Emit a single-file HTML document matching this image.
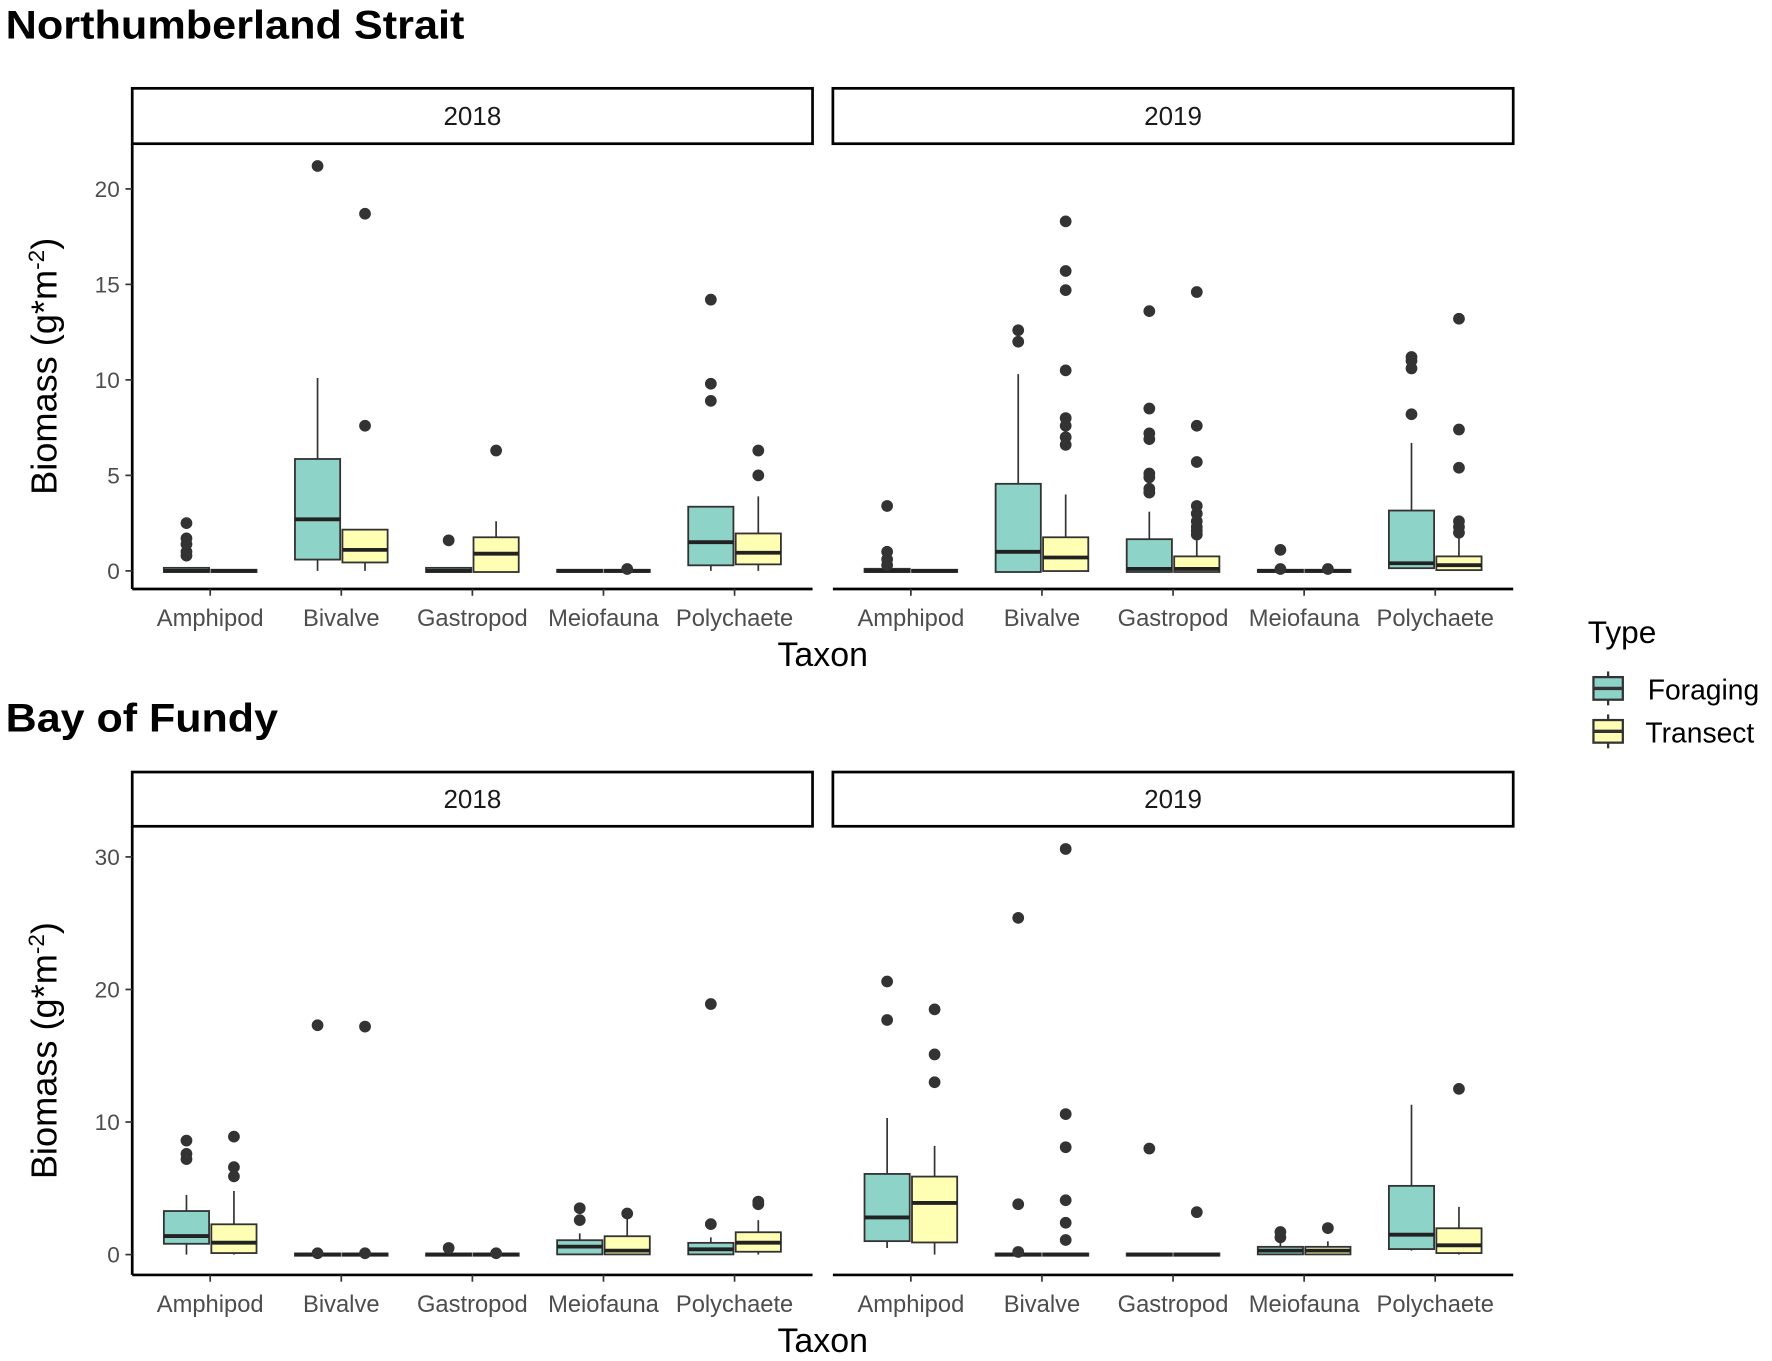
<!DOCTYPE html>
<html><head><meta charset="utf-8"><style>
html,body{margin:0;padding:0;background:#fff;}
svg{display:block;font-family:"Liberation Sans",Arial,sans-serif;}
</style></head><body>
<svg id="chart" width="1772" height="1361" viewBox="0 0 1568 1204">
<text x="5" y="34" font-size="35" font-weight="bold" fill="#000" textLength="406" lengthAdjust="spacingAndGlyphs">Northumberland Strait</text>
<text x="5" y="647" font-size="35" font-weight="bold" fill="#000" textLength="241" lengthAdjust="spacingAndGlyphs">Bay of Fundy</text>
<g>
<text x="1405" y="569" font-size="28" fill="#000">Type</text>
<g>
<line x1="1423" y1="594" x2="1423" y2="624" stroke="#333" stroke-width="2"/>
<rect x="1410" y="599" width="26" height="20" fill="#8dd3c7" stroke="#333" stroke-width="2"/>
<line x1="1410" y1="609" x2="1436" y2="609" stroke="#333" stroke-width="3"/>
<text x="1458" y="619" font-size="25" fill="#000">Foraging</text></g>
<g>
<line x1="1423" y1="632" x2="1423" y2="662" stroke="#333" stroke-width="2"/>
<rect x="1410" y="637" width="26" height="20" fill="#ffffb3" stroke="#333" stroke-width="2"/>
<line x1="1410" y1="647" x2="1436" y2="647" stroke="#333" stroke-width="3"/>
<text x="1456" y="657" font-size="25" fill="#000">Transect</text></g>
</g>
</svg>
<script>
const categories = ["Amphipod","Bivalve","Gastropod","Meiofauna","Polychaete"];
const years = ["2018","2019"];
const nsTicks = [0,5,10,15,20];
const bfTicks = [0,10,20,30];
// each box: [lowWhisker, q1, median, q3, highWhisker]
const ns2018F = [[0,0,0,0.1,0.2],[0,0.65,2.7,5.8,10.1],[0,0,0,0.1,0.2],[0,0,0,0,0],[0,0.35,1.5,3.3,3.4]];
const ns2018T = [[0,0,0,0,0],[0,0.5,1.1,2.1,2.1],[0,0,0.9,1.7,2.6],[0,0,0,0,0],[0,0.4,0.95,1.9,3.9]];
const ns2019F = [[0,0,0,0.05,0.1],[0,0,1.0,4.5,10.3],[0,0,0.1,1.6,3.1],[0,0,0,0,0],[0.1,0.2,0.4,3.1,6.7]];
const ns2019T = [[0,0,0,0,0],[0,0.05,0.7,1.7,4.0],[0,0,0.1,0.7,1.6],[0,0,0,0,0],[0,0.1,0.3,0.7,1.7]];
const ns2018FOut = [[0.8,1.0,1.4,1.7,2.5],[21.2],[1.6],[],[8.9,9.8,14.2]];
const ns2018TOut = [[],[7.6,18.7],[6.3],[0.1],[5.0,6.3]];
const ns2019FOut = [[0.3,0.6,1.0,3.4],[12.0,12.6],[4.1,4.3,4.9,5.1,6.9,7.2,8.5,13.6],[0.1,1.1],[8.2,10.6,11.0,11.2]];
const ns2019TOut = [[],[6.6,7.0,7.6,8.0,10.5,14.7,15.7,18.3],[1.9,2.1,2.3,2.6,3.0,3.4,5.7,7.6,14.6],[0.1],[2.0,2.3,2.6,5.4,7.4,13.2]];
const bf2018F = [[0,0.9,1.4,3.2,4.5],[0,0,0,0,0],[0,0,0,0,0],[0,0.1,0.6,1.0,1.6],[0,0.1,0.4,0.8,1.3]];
const bf2018T = [[0,0.2,0.9,2.2,4.8],[0,0,0,0,0],[0,0,0,0,0],[0,0.1,0.3,1.3,3.0],[0,0.3,0.9,1.6,2.6]];
const bf2019F = [[0.5,1.1,2.8,6.0,10.3],[0,0,0,0,0],[0,0,0,0,0],[0,0.1,0.3,0.5,1.0],[0.3,0.5,1.5,5.1,11.3]];
const bf2019T = [[0,1.0,3.9,5.8,8.2],[0,0,0,0,0],[0,0,0,0,0],[0,0.1,0.3,0.5,1.0],[0,0.2,0.7,1.9,3.6]];
const bf2018FOut = [[7.2,7.6,8.6],[0.1,17.3],[0.5],[2.6,3.5],[2.3,18.9]];
const bf2018TOut = [[5.9,6.6,8.9],[0.1,17.2],[0.1],[3.1],[3.8,4.0]];
const bf2019FOut = [[17.7,20.6],[0.2,3.8,25.4],[8.0],[1.3,1.7],[]];
const bf2019TOut = [[13.0,15.1,18.5],[1.1,2.4,4.1,8.1,10.6,30.6],[3.2],[2.0],[12.5]];

const NS = "http://www.w3.org/2000/svg";
const svg = document.getElementById("chart");
function mk(tag, attrs, parent){const e=document.createElementNS(NS,tag);for(const k in attrs)e.setAttribute(k,attrs[k]);(parent||svg).appendChild(e);return e;}

function drawFigure(cfg){
  const g = mk("g",{});
  
  
  const panelX = [117, 737], panelW = 602;
  const y = v => cfg.y0 - (v - 0) * cfg.scale;
  years.forEach((yr, p) => {
    const px = panelX[p];
    const strip = mk("rect",{x:px,y:cfg.stripTop,width:panelW,height:cfg.stripH,fill:"#fff",stroke:"#000","stroke-width":2.4},g);
    
    
    const st = mk("text",{x:px+panelW/2,y:cfg.stripTop+cfg.stripH/2+8,"font-size":23,"text-anchor":"middle",fill:"#1a1a1a"},g);
    st.textContent = yr;
    const xa = mk("line",{x1:px,y1:cfg.axisY,x2:px+panelW,y2:cfg.axisY,stroke:"#000","stroke-width":2.4},g);
    
    
    if (p===0){
      const ya = mk("line",{x1:px,y1:cfg.stripTop+cfg.stripH,x2:px,y2:cfg.axisY,stroke:"#000","stroke-width":2.4},g);
      
      
      cfg.ticks.forEach(t => {
        mk("line",{x1:px-6,y1:y(t),x2:px,y2:y(t),stroke:"#333","stroke-width":1.5},g);
        const tl = mk("text",{x:px-11,y:y(t)+7,"font-size":20,"text-anchor":"end",fill:"#4d4d4d"},g);
        tl.textContent = t;
        
        
      });
    }
    categories.forEach((c, i) => {
      const cx = px + 69 + i*116;
      mk("line",{x1:cx,y1:cfg.axisY,x2:cx,y2:cfg.axisY+6,stroke:"#333","stroke-width":1.5},g);
      const xl = mk("text",{x:cx,y:cfg.axisY+33,"font-size":21,"text-anchor":"middle",fill:"#4d4d4d"},g);
      xl.textContent = c;
      
      
      [[cfg.F[p][i], cfg.FO[p][i], -21, "#8dd3c7", "foraging"],[cfg.T[p][i], cfg.TO[p][i], 21, "#ffffb3", "transect"]].forEach(([b, outs, off, col, nm]) => {
        const bx = cx + off, hw = 20;
        const bg = mk("g",{},g);
        
        
        mk("line",{x1:bx,y1:y(b[0]),x2:bx,y2:y(b[4]),stroke:"#333","stroke-width":1.5},bg);
        const top = y(b[3]), h = Math.max(y(b[1]) - y(b[3]), 0);
        mk("rect",{x:bx-hw,y:top-1,width:hw*2,height:h+2,fill:col,stroke:"#333","stroke-width":1.6},bg);
        mk("line",{x1:bx-hw,y1:y(b[2]),x2:bx+hw,y2:y(b[2]),stroke:"#222","stroke-width":3.4},bg);
        outs.forEach(o => {
          const d = mk("circle",{cx:bx,cy:y(o),r:5.2,fill:"#333"},bg);
          
          
        });
      });
    });
  });
  const xt = mk("text",{x:728,y:cfg.axisY+68,"font-size":30,"text-anchor":"middle",fill:"#000"},g);
  xt.textContent = "Taxon";
  
  
  const cy = (cfg.stripTop+cfg.stripH+cfg.axisY)/2;
  const yt = mk("text",{x:0,y:0,"font-size":32,"text-anchor":"middle",fill:"#000",transform:`translate(50 ${cy}) rotate(-90)`},g);
  yt.innerHTML = 'Biomass (g*m<tspan font-size="20" dy="-11">-2</tspan><tspan dy="11">)</tspan>';
  
  
}
drawFigure({name:"northumberland-panels", stripTop:78, stripH:49, axisY:521, y0:505, scale:16.9, ticks:nsTicks,
  F:[ns2018F,ns2019F], T:[ns2018T,ns2019T], FO:[ns2018FOut,ns2019FOut], TO:[ns2018TOut,ns2019TOut]});
drawFigure({name:"bay-of-fundy-panels", stripTop:683, stripH:48, axisY:1128, y0:1110, scale:11.73, ticks:bfTicks,
  F:[bf2018F,bf2019F], T:[bf2018T,bf2019T], FO:[bf2018FOut,bf2019FOut], TO:[bf2018TOut,bf2019TOut]});
</script>
</body></html>
